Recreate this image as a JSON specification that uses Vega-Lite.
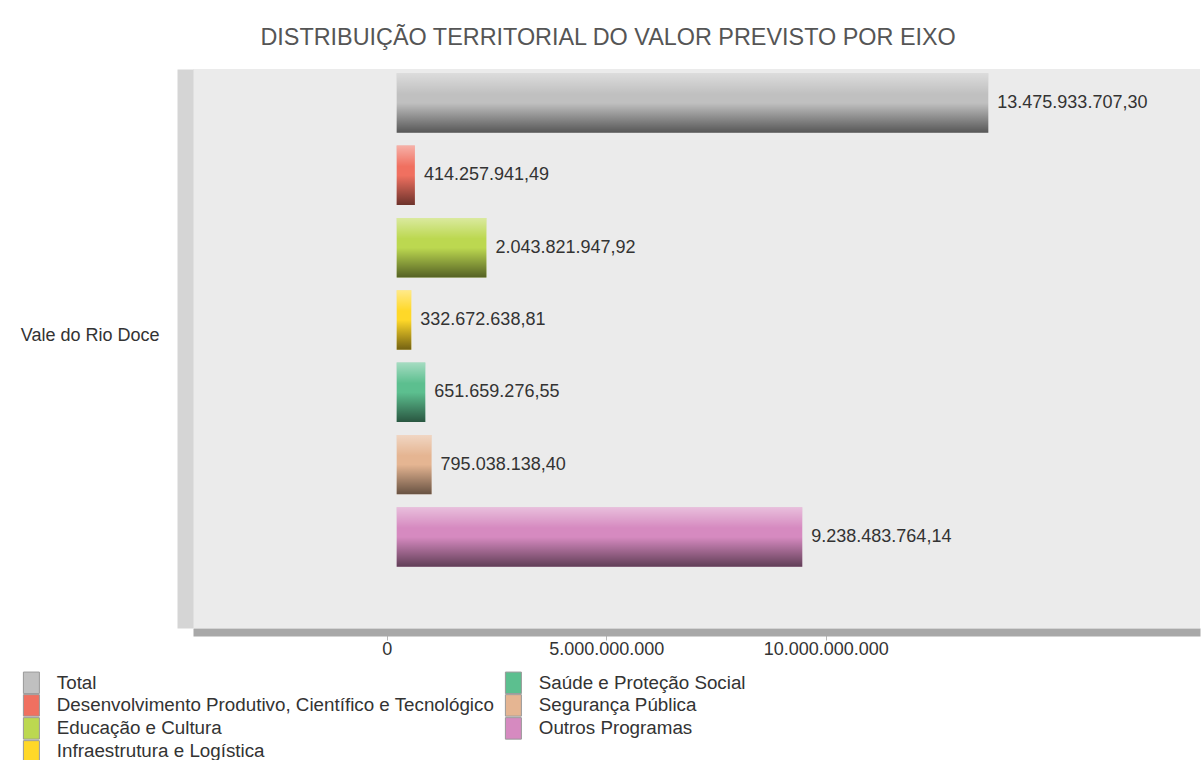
{
  "$schema": "https://vega.github.io/schema/vega-lite/v6.json",
  "width": 1007,
  "height": 559,
  "autosize": {"type": "none"},
  "padding": {"left": 193, "top": 69, "right": 2, "bottom": 132},
  "background": "white",
  "title": {
    "text": "DISTRIBUIÇÃO TERRITORIAL DO VALOR PREVISTO POR EIXO",
    "anchor": "middle",
    "frame": "bounds",
    "font": "Liberation Sans",
    "fontSize": 23.4,
    "fontWeight": "normal",
    "color": "#555555",
    "offset": 19,
    "dx": -2
  },
  "config": {
    "locale": {"number": {"decimal": ",", "thousands": ".", "grouping": [3], "currency": ["R$", ""]}},
    "view": {"fill": "#ebebeb", "stroke": null},
    "font": "Liberation Sans"
  },
  "data": {
    "values": [
      {"regiao": "Vale do Rio Doce", "eixo": "Total", "valor": 13475933707.30},
      {"regiao": "Vale do Rio Doce", "eixo": "Desenvolvimento Produtivo, Científico e Tecnológico", "valor": 414257941.49},
      {"regiao": "Vale do Rio Doce", "eixo": "Educação e Cultura", "valor": 2043821947.92},
      {"regiao": "Vale do Rio Doce", "eixo": "Infraestrutura e Logística", "valor": 332672638.81},
      {"regiao": "Vale do Rio Doce", "eixo": "Saúde e Proteção Social", "valor": 651659276.55},
      {"regiao": "Vale do Rio Doce", "eixo": "Segurança Pública", "valor": 795038138.40},
      {"regiao": "Vale do Rio Doce", "eixo": "Outros Programas", "valor": 9238483764.14}
    ]
  },
  "encoding": {
    "y": {
      "field": "regiao",
      "type": "nominal",
      "title": null,
      "scale": {"paddingInner": 0, "paddingOuter": 0.0665, "align": 0.0655},
      "axis": {
        "offset": 8,
        "domainColor": "#d5d5d5",
        "domainWidth": 16,
        "ticks": false,
        "tickSize": 0,
        "labelFontSize": 18,
        "labelColor": "#333333",
        "labelFont": "Liberation Sans",
        "labelPadding": 26,
        "labelOffset": 16
      }
    },
    "yOffset": {
      "field": "eixo",
      "type": "nominal",
      "sort": ["Total", "Desenvolvimento Produtivo, Científico e Tecnológico", "Educação e Cultura", "Infraestrutura e Logística", "Saúde e Proteção Social", "Segurança Pública", "Outros Programas"],
      "scale": {"paddingInner": 0.178, "paddingOuter": 0}
    }
  },
  "layer": [
    {
      "mark": {"type": "bar", "xOffset": 10, "x2Offset": 10},
      "encoding": {
        "x": {
          "field": "valor",
          "type": "quantitative",
          "title": null,
          "scale": {"domain": [-4412000000, 18526000000], "nice": false, "zero": false},
          "axis": {
            "values": [0, 5000000000, 10000000000],
            "format": ",.0f",
            "grid": false,
            "offset": 4,
            "domainColor": "#a8a8a8",
            "domainWidth": 8,
            "tickColor": "#b8b8b8",
            "tickSize": 8,
            "labelFontSize": 18,
            "labelColor": "#333333",
            "labelFont": "Liberation Sans",
            "labelPadding": 0
          }
        },
        "color": {
          "field": "eixo",
          "type": "nominal",
          "scale": {
            "domain": ["Total", "Desenvolvimento Produtivo, Científico e Tecnológico", "Educação e Cultura", "Infraestrutura e Logística", "Saúde e Proteção Social", "Segurança Pública", "Outros Programas"],
            "range": ["#c0c0c0", "#f07060", "#bcd850", "#ffd828", "#5cbf8f", "#e5b592", "#d68ac0"]
          },
          "legend": {
            "orient": "none",
            "legendX": -171,
            "legendY": 604,
            "columns": 2,
            "title": null,
            "symbolType": "M-1.6,-2.15L1.6,-2.15L1.6,2.15L-1.6,2.15Z",
            "symbolSize": 100,
            "symbolStrokeColor": "#999999",
            "symbolStrokeWidth": 1,
            "symbolOpacity": 1,
            "labelFontSize": 18.8,
            "labelColor": "#333333",
            "labelFont": "Liberation Sans",
            "labelOffset": 16,
            "labelLimit": 700,
            "rowPadding": -9.7,
            "columnPadding": 8
          }
        }
      }
    },
    {
      "mark": {
        "type": "bar",
        "xOffset": 10,
        "x2Offset": 10,
        "fill": {
          "gradient": "linear",
          "x1": 0, "y1": 0, "x2": 0, "y2": 1,
          "stops": [
            {"offset": 0, "color": "rgba(255,255,255,0.45)"},
            {"offset": 0.35, "color": "rgba(255,255,255,0)"},
            {"offset": 0.5, "color": "rgba(0,0,0,0)"},
            {"offset": 1, "color": "rgba(0,0,0,0.55)"}
          ]
        }
      },
      "encoding": {
        "x": {"field": "valor", "type": "quantitative"}
      }
    },
    {
      "mark": {"type": "text", "align": "left", "baseline": "middle", "dx": 19, "fontSize": 18, "color": "#333333", "font": "Liberation Sans"},
      "encoding": {
        "x": {"field": "valor", "type": "quantitative"},
        "text": {"field": "valor", "type": "quantitative", "format": ",.2f"}
      }
    }
  ]
}
